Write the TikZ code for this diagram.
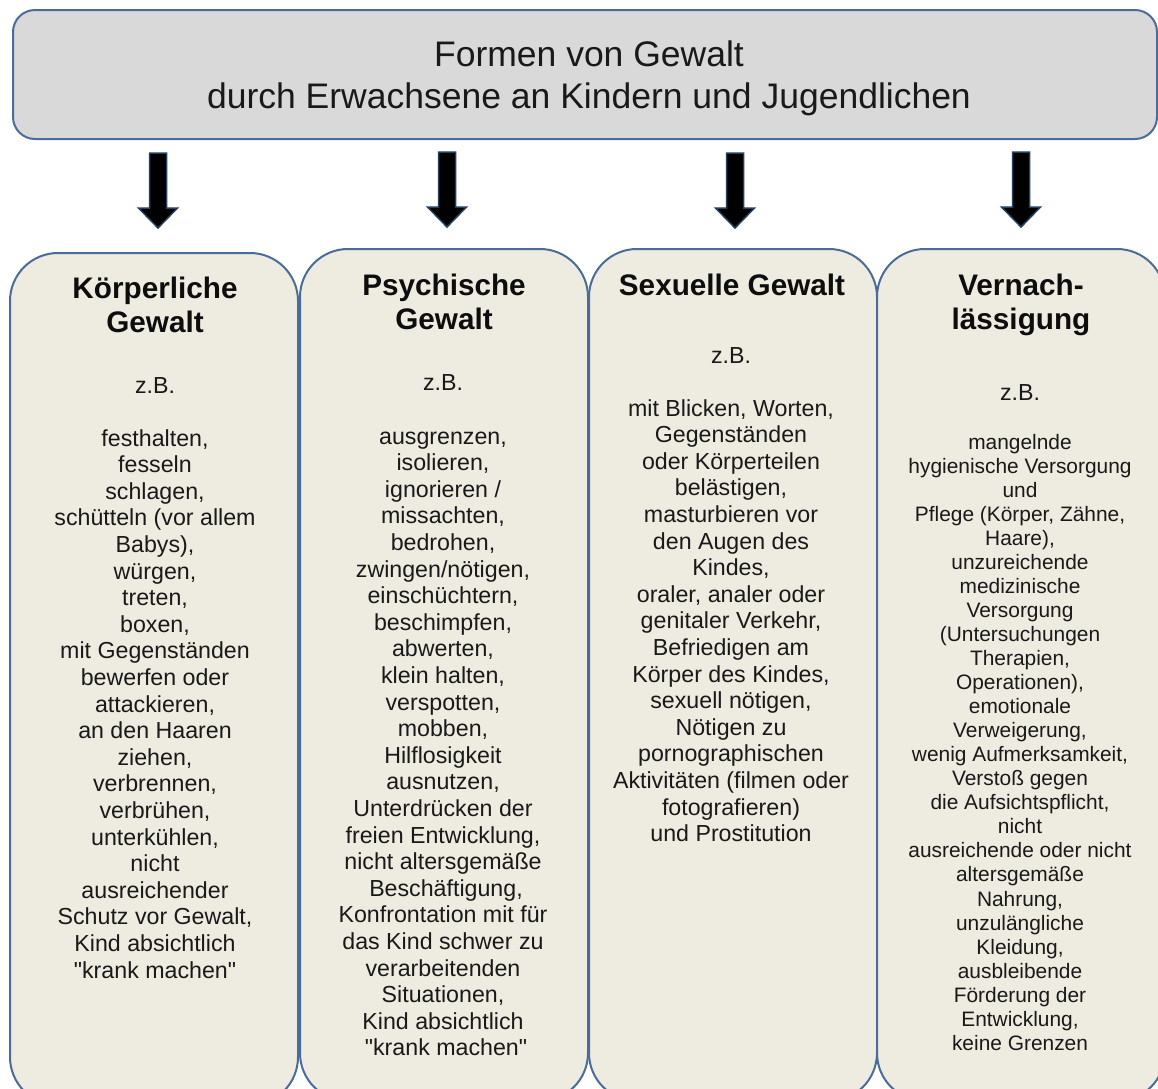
\documentclass[tikz,border=0pt]{standalone}
\usepackage{fontspec}
\setmainfont{Liberation Sans}
\newfontfamily\qfont{Liberation Sans}
\newcommand\sq{{\qfont"}}
\usetikzlibrary{calc}
\definecolor{topfill}{HTML}{D9D9D9}
\definecolor{colfill}{HTML}{EEEBE1}
\definecolor{bordc}{HTML}{4A6C98}
\definecolor{arrowline}{HTML}{243F60}
\tikzset{
  topbox/.style={draw=bordc, fill=topfill, line width=2pt, rounded corners=22pt,
    minimum width=1144pt, minimum height=129pt, inner sep=0pt},
  colbox/.style={draw=bordc, fill=colfill, line width=2pt, rounded corners=48pt,
    minimum width=288pt, minimum height=852pt, anchor=north, inner sep=0pt},
  titletext/.style={font=\fontsize{35.5}{42}\selectfont, align=center, anchor=north, inner sep=0pt, text=black!90},
  headtext/.style={font=\fontsize{29.7}{34}\selectfont\bfseries, align=center, anchor=north, inner sep=0pt, text=black!95},
  bodytext/.style={font=\fontsize{23.2}{26.6}\selectfont, align=center, anchor=north, inner sep=0pt, text=black!90},
  smalltext/.style={font=\fontsize{20.9}{24.04}\selectfont, align=center, anchor=north, inner sep=0pt, text=black!90},
  blockarrow/.style={fill=black, draw=arrowline, line width=1.5pt, line join=miter},
}
\newcommand\blockarrow[1]{%
  \filldraw[blockarrow] ($(#1)+(-8.5,0)$) -- ($(#1)+(8.5,0)$) -- ($(#1)+(8.5,55)$)
    -- ($(#1)+(19.5,55)$) -- ($(#1)+(0,75)$) -- ($(#1)+(-19.5,55)$) -- ($(#1)+(-8.5,55)$) -- cycle;}
\begin{document}
\begin{tikzpicture}[x=1pt, y=-1pt]
\useasboundingbox (0,0) rectangle (1158,1088);
\clip (0,0) rectangle (1158,1088);

% top box
\node[topbox] (top) at (585,74.5) {};
\node[titletext] (title) at (589,37.1) {\strut Formen von Gewalt\\durch Erwachsene an Kindern und Jugendlichen};

% column boxes
\node[colbox] (c1) at (154,252) {};
\node[colbox] (c2) at (444,248) {};
\node[colbox] (c3) at (733,248) {};
\node[colbox] (c4) at (1021,248) {};

% arrows
\coordinate (a1) at (158,153);
\coordinate (a2) at (447,152);
\coordinate (a3) at (735,153);
\coordinate (a4) at (1021,152);
\blockarrow{a1}
\blockarrow{a2}
\blockarrow{a3}
\blockarrow{a4}

% headings
\node[headtext] (h1) at (155,274.2) {\strut Körperliche\\Gewalt};
\node[headtext] (h2) at (444,271.2) {\strut Psychische\\Gewalt};
\node[headtext] (h3) at (732,271.2) {\strut Sexuelle Gewalt};
\node[headtext] (h4) at (1021,271.2) {\strut Vernach-\\lässigung};

% z.B.
\node[bodytext] (z1) at (155,374.3) {\strut z.B.};
\node[bodytext] (z2) at (443,371.3) {\strut z.B.};
\node[bodytext] (z3) at (731,344.3) {\strut z.B.};
\node[bodytext] (z4) at (1020,381.3) {\strut z.B.};

% bodies
\node[bodytext] (b1) at (155,427.3) {\strut festhalten,\\fesseln\\schlagen,\\schütteln (vor allem\\Babys),\\würgen,\\treten,\\boxen,\\mit Gegenständen\\bewerfen oder\\attackieren,\\an den Haaren\\ziehen,\\verbrennen,\\verbrühen,\\unterkühlen,\\nicht\\ausreichender\\Schutz vor Gewalt,\\Kind absichtlich\\\sq krank machen\sq};

\node[bodytext] (b2) at (443,425.3) {\strut ausgrenzen,\\isolieren,\\ignorieren /\\missachten,\\bedrohen,\\zwingen/nötigen,\\einschüchtern,\\beschimpfen,\\abwerten,\\klein halten,\\verspotten,\\mobben,\\Hilflosigkeit\\ausnutzen,\\Unterdrücken der\\freien Entwicklung,\\nicht altersgemäße\\\hspace{6pt}Beschäftigung,\\Konfrontation mit für\\das Kind schwer zu\\verarbeitenden\\Situationen,\\Kind absichtlich\\\hspace{6pt}\sq krank machen\sq};

\node[bodytext] (b3) at (731,397.3) {\strut mit Blicken, Worten,\\Gegenständen\\oder Körperteilen\\belästigen,\\masturbieren vor\\den Augen des\\Kindes,\\oraler, analer oder\\genitaler Verkehr,\\Befriedigen am\\Körper des Kindes,\\sexuell nötigen,\\Nötigen zu\\pornographischen\\Aktivitäten (filmen oder\\fotografieren)\\und Prostitution};

\node[smalltext] (b4) at (1020,432.2) {\strut mangelnde\\hygienische Versorgung\\und\\Pflege (Körper, Zähne,\\Haare),\\unzureichende\\medizinische\\Versorgung\\(Untersuchungen\\Therapien,\\Operationen),\\emotionale\\Verweigerung,\\wenig Aufmerksamkeit,\\Verstoß gegen\\die Aufsichtspflicht,\\nicht\\ausreichende oder nicht\\altersgemäße\\Nahrung,\\unzulängliche\\Kleidung,\\ausbleibende\\Förderung der\\Entwicklung,\\keine Grenzen};
\end{tikzpicture}
\end{document}
